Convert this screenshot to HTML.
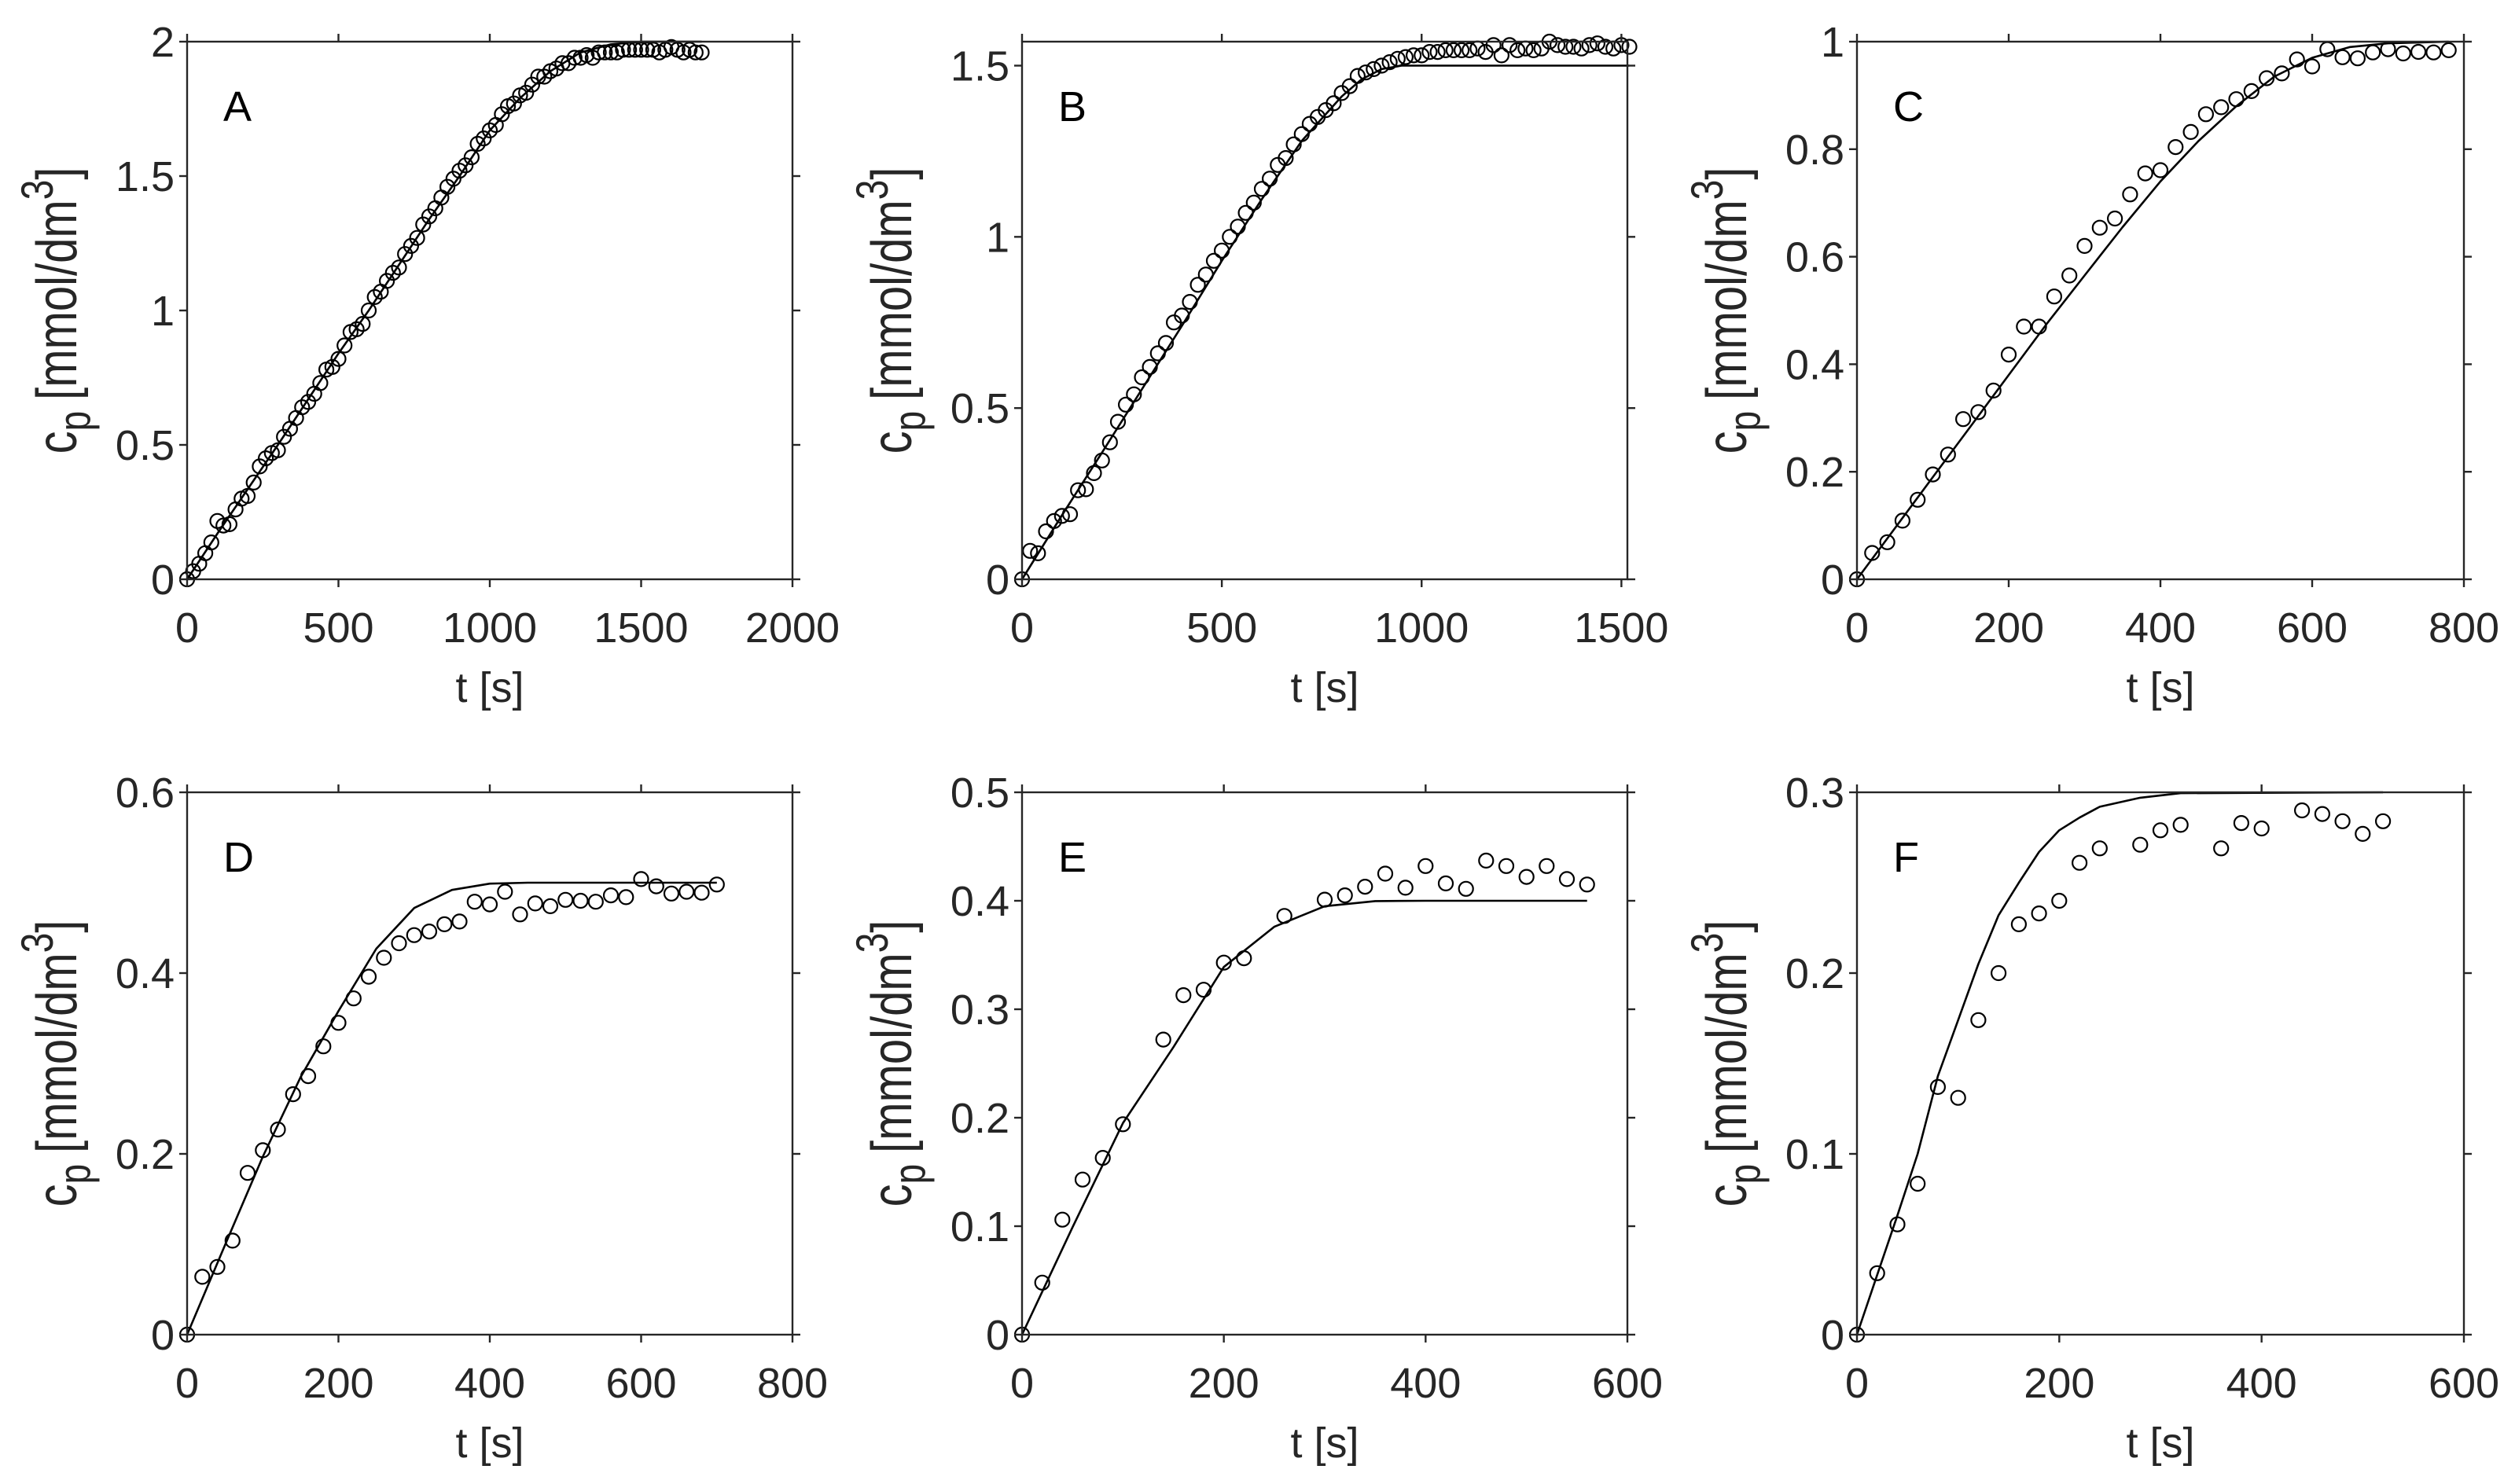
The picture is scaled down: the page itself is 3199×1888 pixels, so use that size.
<!DOCTYPE html>
<html><head><meta charset="utf-8"><style>
html,body{margin:0;padding:0;background:#fff;}
svg{display:block;font-family:"Liberation Sans",Arial,sans-serif;}
</style></head><body>
<svg id="fig" width="3199" height="1888" viewBox="0 0 3199 1888" xmlns="http://www.w3.org/2000/svg"></svg>
<script>
// ---- Panel A data ----
const aPtsT = [0,20,40,60,80,100,120,140,160,180,200,220,240,260,280,300,320,340,360,380,400,420,440,460,480,500,520,540,560,580,600,620,640,660,680,700,720,740,760,780,800,820,840,860,880,900,920,940,960,980,1000,1020,1040,1060,1080,1100,1120,1140,1160,1180,1200,1220,1240,1260,1280,1300,1320,1340,1360,1380,1400,1420,1440,1460,1480,1500,1520,1540,1560,1580,1600,1620,1640,1660,1680,1700];
const aPtsC = [0,0.03,0.058,0.097,0.137,0.217,0.2,0.205,0.26,0.3,0.31,0.36,0.42,0.45,0.47,0.48,0.53,0.56,0.6,0.64,0.66,0.69,0.73,0.78,0.79,0.82,0.87,0.92,0.93,0.95,1.0,1.05,1.07,1.11,1.14,1.16,1.21,1.24,1.27,1.32,1.35,1.38,1.42,1.46,1.49,1.52,1.54,1.57,1.62,1.64,1.67,1.69,1.73,1.76,1.77,1.8,1.81,1.84,1.87,1.87,1.89,1.9,1.92,1.92,1.94,1.94,1.95,1.94,1.96,1.96,1.96,1.96,1.97,1.97,1.97,1.97,1.97,1.97,1.96,1.97,1.98,1.97,1.96,1.97,1.96,1.96];
const aLineT = [0,100,200,300,400,500,600,700,800,900,1000,1100,1200,1300,1400,1500,1700];
const aLineC = [0,0.17,0.335,0.5,0.67,0.84,1.0,1.17,1.34,1.5,1.67,1.79,1.89,1.96,1.99,2.0,2.0];
// ---- Panel B data ----
const bPtsT = [0,20,40,60,80,100,120,140,160,180,200,220,240,260,280,300,320,340,360,380,400,420,440,460,480,500,520,540,560,580,600,620,640,660,680,700,720,740,760,780,800,820,840,860,880,900,920,940,960,980,1000,1020,1040,1060,1080,1100,1120,1140,1160,1180,1200,1220,1240,1260,1280,1300,1320,1340,1360,1380,1400,1420,1440,1460,1480,1500,1520];
const bPtsC = [0,0.083,0.076,0.14,0.17,0.185,0.19,0.26,0.263,0.31,0.347,0.4,0.46,0.51,0.54,0.59,0.62,0.66,0.69,0.75,0.77,0.81,0.86,0.89,0.93,0.96,1.0,1.03,1.07,1.1,1.14,1.17,1.21,1.23,1.27,1.3,1.33,1.35,1.37,1.39,1.42,1.44,1.47,1.48,1.49,1.5,1.51,1.52,1.525,1.53,1.53,1.54,1.54,1.545,1.545,1.545,1.545,1.55,1.54,1.56,1.53,1.56,1.545,1.55,1.545,1.55,1.57,1.56,1.555,1.555,1.55,1.56,1.565,1.555,1.55,1.56,1.555];
const bLineT = [0,100,200,300,400,500,600,700,800,850,900,950,1000,1520];
const bLineC = [0,0.187,0.37,0.555,0.74,0.93,1.11,1.28,1.41,1.46,1.49,1.5,1.5,1.5];
// ---- Panel C data ----
const cPtsT = [0,20,40,60,80,100,120,140,160,180,200,220,240,260,280,300,320,340,360,380,400,420,440,460,480,500,520,540,560,580,600,620,640,660,680,700,720,740,760,780];
const cPtsC = [0,0.049,0.069,0.109,0.148,0.195,0.232,0.298,0.311,0.351,0.418,0.47,0.47,0.526,0.565,0.62,0.654,0.671,0.716,0.755,0.761,0.804,0.832,0.865,0.878,0.893,0.908,0.932,0.941,0.967,0.954,0.986,0.971,0.969,0.98,0.986,0.978,0.981,0.98,0.984];
const cLineT = [0,50,100,150,200,250,300,350,400,450,500,550,600,650,700,780];
const cLineC = [0,0.095,0.19,0.285,0.38,0.475,0.565,0.655,0.74,0.815,0.88,0.935,0.97,0.99,0.997,1.0];
// ---- Panel D data ----
const dPtsT = [0,20,40,60,80,100,120,140,160,180,200,220,240,260,280,300,320,340,360,380,400,420,440,460,480,500,520,540,560,580,600,620,640,660,680,700];
const dPtsC = [0,0.064,0.075,0.104,0.179,0.204,0.227,0.266,0.286,0.319,0.345,0.372,0.396,0.417,0.433,0.442,0.446,0.454,0.457,0.479,0.476,0.49,0.465,0.477,0.474,0.481,0.48,0.479,0.486,0.484,0.504,0.496,0.488,0.49,0.489,0.498];
const dLineT = [0,50,100,150,200,250,300,350,400,450,700];
const dLineC = [0,0.099,0.197,0.285,0.358,0.427,0.472,0.492,0.499,0.5,0.5];
// ---- Panel E data ----
const ePtsT = [0,20,40,60,80,100,140,160,180,200,220,260,300,320,340,360,380,400,420,440,460,480,500,520,540,560];
const ePtsC = [0,0.048,0.106,0.143,0.163,0.194,0.272,0.313,0.318,0.343,0.347,0.386,0.401,0.405,0.413,0.425,0.412,0.432,0.416,0.411,0.437,0.432,0.422,0.432,0.42,0.415];
const eLineT = [0,50,100,150,200,250,300,350,400,560];
const eLineC = [0,0.099,0.195,0.265,0.339,0.376,0.395,0.3997,0.4,0.4];
// ---- Panel F data ----
const fPtsT = [0,20,40,60,80,100,120,140,160,180,200,220,240,280,300,320,360,380,400,440,460,480,500,520];
const fPtsC = [0,0.034,0.061,0.0835,0.137,0.131,0.174,0.2,0.227,0.233,0.24,0.261,0.269,0.271,0.279,0.282,0.269,0.283,0.28,0.29,0.288,0.284,0.277,0.284];
const fLineT = [0,20,40,60,80,100,120,140,160,180,200,220,240,280,320,520];
const fLineC = [0,0.033,0.066,0.1,0.143,0.174,0.205,0.232,0.25,0.267,0.279,0.286,0.292,0.297,0.2995,0.3];
// ---- axis settings ----
const xMaxes = [2000,1515,800,800,600,600];
const xTicks = [[0,500,1000,1500,2000],[0,500,1000,1500],[0,200,400,600,800],[0,200,400,600,800],[0,200,400,600],[0,200,400,600]];
const yMaxes = [2,1.57,1,0.6,0.5,0.3];
const yTicks = [[0,0.5,1,1.5,2],[0,0.5,1,1.5],[0,0.2,0.4,0.6,0.8,1],[0,0.2,0.4,0.6],[0,0.1,0.2,0.3,0.4,0.5],[0,0.1,0.2,0.3]];
const letters = ["A","B","C","D","E","F"];

const NS = "http://www.w3.org/2000/svg";
const svg = document.getElementById("fig");
function mk(tag, attrs, parent){ const e=document.createElementNS(NS,tag); for(const k in attrs) e.setAttribute(k,attrs[k]); (parent||svg).appendChild(e); return e; }

const boxes = [[238,53,1008,737],[1300,53,2070,737],[2362,53,3134,737],[238,1008,1008,1698],[1300,1008,2070,1698],[2362,1008,3134,1698]];
const data = [[aPtsT,aPtsC,aLineT,aLineC],[bPtsT,bPtsC,bLineT,bLineC],[cPtsT,cPtsC,cLineT,cLineC],[dPtsT,dPtsC,dLineT,dLineC],[ePtsT,ePtsC,eLineT,eLineC],[fPtsT,fPtsC,fLineT,fLineC]];
const AX = "#262626";
function fmt(v){ return String(Math.round(v*1000)/1000); }

for (let p=0;p<6;p++){
  const [L,T,R,B] = boxes[p];
  const xs = v => L + v/xMaxes[p]*(R-L);
  const ys = v => B - v/yMaxes[p]*(B-T);
  const g = mk("g",{});
  
  
  const [pt,pc,lt,lc] = data[p];
  const d = lt.map((t,i)=>(i?"L":"M")+xs(t).toFixed(1)+" "+ys(lc[i]).toFixed(1)).join(" ");
  const line = mk("path",{d:d,fill:"none",stroke:"#000","stroke-width":2.6,"stroke-linejoin":"round"},g);
  
  
  for (let i=0;i<pt.length;i++){
    const c = mk("circle",{cx:xs(pt[i]).toFixed(1),cy:ys(pc[i]).toFixed(1),r:9,fill:"none",stroke:"#000","stroke-width":2.2},g);
    
    
  }
  const box = mk("rect",{x:L,y:T,width:R-L,height:B-T,fill:"none",stroke:AX,"stroke-width":2.4},g);
  
  
  xTicks[p].forEach(v=>{
    const x = xs(v);
    mk("line",{x1:x,y1:B,x2:x,y2:B+10,stroke:AX,"stroke-width":2.4},g);
    mk("line",{x1:x,y1:T,x2:x,y2:T-10,stroke:AX,"stroke-width":2.4},g);
    const t = mk("text",{x:x,y:B+80,"font-size":54,"text-anchor":"middle",fill:AX},g);
    t.textContent = fmt(v);
    
    
  });
  yTicks[p].forEach(v=>{
    const y = ys(v);
    mk("line",{x1:L,y1:y,x2:L-10,y2:y,stroke:AX,"stroke-width":2.4},g);
    mk("line",{x1:R,y1:y,x2:R+10,y2:y,stroke:AX,"stroke-width":2.4},g);
    const t = mk("text",{x:L-16,y:y+19,"font-size":54,"text-anchor":"end",fill:AX},g);
    t.textContent = fmt(v);
    
    
  });
  const xl = mk("text",{x:(L+R)/2,y:B+156,"font-size":54,"text-anchor":"middle",fill:AX},g);
  xl.textContent = "t [s]";
  
  
  const cx = L-141, cy=(T+B)/2;
  const yl = mk("text",{x:0,y:0,"font-size":58,"text-anchor":"middle",fill:AX,transform:`translate(${cx},${cy}) rotate(-90) scale(1,1.25)`},g);
  
  
  const s1=mk("tspan",{},yl); s1.textContent="c";
  const s2=mk("tspan",{dy:14,"font-size":46},yl); s2.textContent="p";
  const s3=mk("tspan",{dy:-14,dx:14},yl); s3.textContent="[mmol/dm";
  const s4=mk("tspan",{dy:-24,"font-size":46},yl); s4.textContent="3";
  const s5=mk("tspan",{dy:24},yl); s5.textContent="]";
  const lt2 = mk("text",{x:L+46,y:T+101,"font-size":54,fill:"#000"},g);
  lt2.textContent = letters[p];
  
  
}
</script>
</body></html>
